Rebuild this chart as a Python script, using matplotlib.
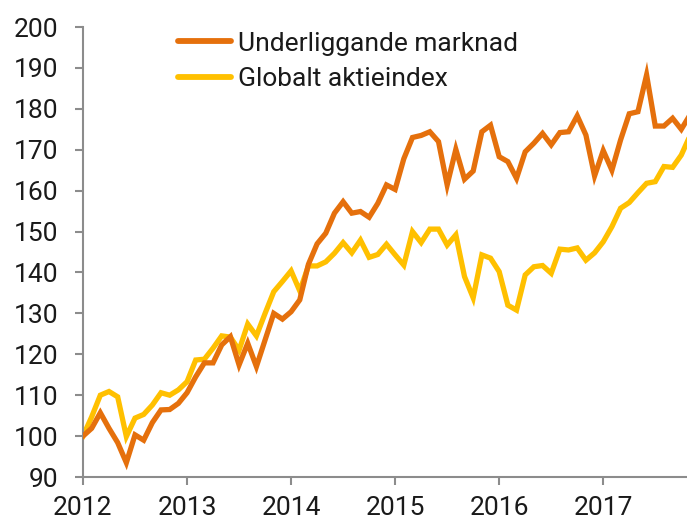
import matplotlib
matplotlib.use("Agg")
import matplotlib.pyplot as plt
import numpy as np

# Monthly index values, Jan 2012 .. Nov 2017
underliggande = [
    100.0, 101.9, 105.7, 101.9, 98.4, 93.5, 100.3, 99.0, 103.3, 106.4, 106.5, 108.0,
    110.6, 114.5, 117.9, 117.9, 122.3, 124.3, 117.4, 122.7, 117.0, 123.5, 130.0, 128.6,
    130.4, 133.3, 142.0, 147.0, 149.6, 154.5, 157.3, 154.5, 154.9, 153.5, 156.9, 161.4,
    160.3, 167.8, 173.0, 173.5, 174.4, 172.0, 161.4, 170.1, 162.8, 164.8, 174.4, 176.0,
    168.3, 167.1, 163.0, 169.5, 171.6, 174.0, 171.2, 174.2, 174.4, 178.3, 173.6, 163.6,
    169.8, 165.0, 172.4, 178.8, 179.3, 188.3, 175.8, 175.8, 177.7, 175.0, 178.5,
]
globalt = [
    100.0, 104.7, 110.0, 110.9, 109.6, 99.9, 104.4, 105.3, 107.6, 110.6, 110.0, 111.3,
    113.3, 118.6, 118.8, 121.5, 124.5, 124.2, 121.0, 127.4, 124.5, 130.0, 135.3, 137.8,
    140.4, 135.5, 141.6, 141.6, 142.6, 144.7, 147.3, 144.8, 147.9, 143.7, 144.4, 146.9,
    144.3, 141.8, 150.0, 147.3, 150.6, 150.6, 146.7, 149.2, 139.0, 133.8, 144.3, 143.5,
    140.2, 132.0, 130.8, 139.4, 141.4, 141.7, 139.8, 145.7, 145.5, 146.0, 143.0, 144.8,
    147.5, 151.2, 155.7, 157.1, 159.5, 161.8, 162.2, 165.9, 165.7, 168.7, 173.4,
]
series_names = ["Underliggande marknad", "Globalt aktieindex"]
year_ticks = [2012, 2013, 2014, 2015, 2016, 2017]
y_ticks = [90, 100, 110, 120, 130, 140, 150, 160, 170, 180, 190, 200]

x = 2012 + np.arange(len(underliggande)) / 12.0

plt.rcParams['font.family'] = ['Roboto', 'DejaVu Sans']

fig = plt.figure(figsize=(6.87, 5.22), dpi=100)
ax = fig.add_axes([0.1208, 0.0862, 0.8792, 0.862])

orange = '#E5700C'
yellow = '#FFC000'
ax.plot(x, underliggande, color=orange, lw=3.8, solid_joinstyle='miter', label=series_names[0], zorder=3)
ax.plot(x, globalt, color=yellow, lw=3.8, solid_joinstyle='miter', label=series_names[1], zorder=2)

ax.set_xlim(2012, 2012 + 69.66 / 12)
ax.set_ylim(90, 200)
ax.set_xticks(year_ticks)
ax.set_xticklabels([str(y) for y in year_ticks])
ax.set_yticks(y_ticks)

gray = '#8C8C8C'
for s in ['top', 'right']:
    ax.spines[s].set_visible(False)
for s in ['left', 'bottom']:
    ax.spines[s].set_color(gray)
    ax.spines[s].set_linewidth(1.5)
ax.tick_params(axis='both', colors=gray, width=1.5, length=6, labelsize=19, labelcolor='#1a1a1a')
ax.tick_params(axis='y', pad=12)
ax.tick_params(axis='x', pad=8)

handles, labels = ax.get_legend_handles_labels()
leg = ax.legend(handles, labels, loc='upper left', bbox_to_anchor=(0.157, 0.99), frameon=False,
                fontsize=19, handlelength=2.0, handletextpad=0.27, labelspacing=0.45,
                borderpad=0, borderaxespad=0)
for line in leg.get_lines():
    line.set_linewidth(4.2)
    line.set_solid_capstyle('round')
for t in leg.get_texts():
    t.set_color('#1a1a1a')

fig.savefig('out.png', dpi=100)
